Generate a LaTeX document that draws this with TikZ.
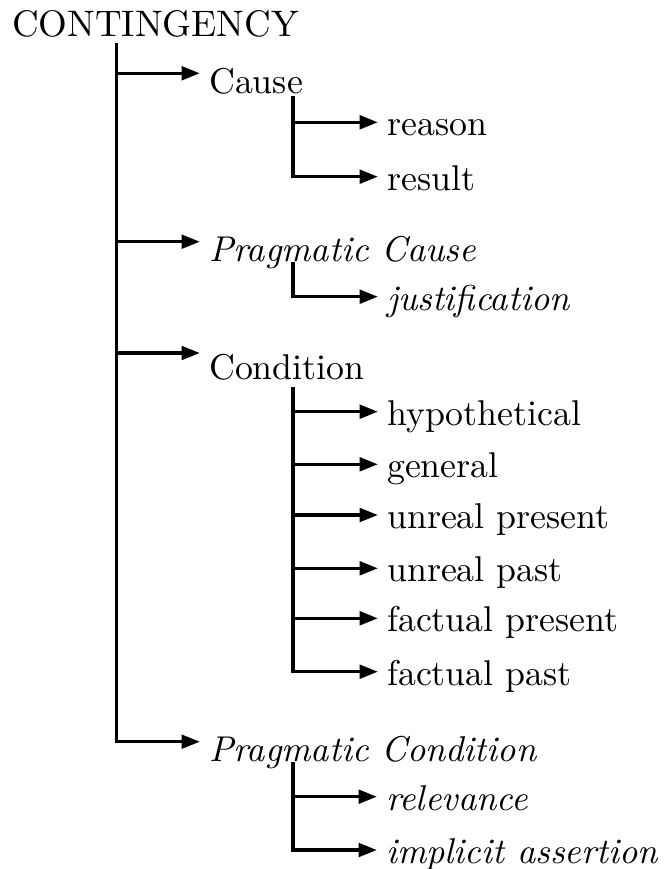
\documentclass[tikz,border=0pt]{standalone}
\usetikzlibrary{positioning}
\usetikzlibrary{arrows.meta}
\tikzset{root node/.style={inner sep=0pt, anchor=base west, font=\fontsize{10.5}{12}\selectfont},
  class node/.style={inner xsep=2.4pt, inner ysep=0pt, text height=11.8pt, text depth=0.4pt, font=\fontsize{10.2}{12}\selectfont},
  type node/.style={class node, text height=8.1pt},
  branch/.style={line width=1pt, -{Triangle[length=5.2pt,width=3.8pt]}},}

\begin{document}
\begin{tikzpicture}
      \useasboundingbox (0,0) rectangle (6.64,-8.69);
      \node[root node] (root) at (0.115,-0.367) {CONTINGENCY};
      \coordinate[below right = 0.63mm and 10.5mm of root.base west] (trunk);

      % first level
      \node[class node] (cause) [below right = 3.03mm and 8.35mm of trunk, anchor=west] {Cause};
      \node[class node] (pcause) [below = 16.84mm of cause.west, anchor=west] {\itshape Pragmatic Cause};
      \node[class node, text height=15.4pt] (cond) [below = 11.13mm of pcause.west, anchor=west] {Condition};
      \node[class node] (pcond) [below = 38.87mm of cond.west, anchor=west] {\itshape Pragmatic Condition};

      \coordinate[below right = 2.27mm and 9.3mm of cause.west] (cause fork);
      \coordinate[below right = 2.03mm and 9.3mm of pcause.west] (pcause fork);
      \coordinate[below right = 3.4mm and 9.3mm of cond.west] (cond fork);
      \coordinate[below right = 2.03mm and 9.3mm of pcond.west] (pcond fork);

      % second level
      \node[type node] (reason) [below right = 2.63mm and 8.5mm of cause fork, anchor=west] {reason};
      \node[type node] (result) [below = 5.44mm of reason.west, anchor=west] {result};
      \node[type node] (just) [below right = 3.47mm and 8.5mm of pcause fork, anchor=west] {\itshape justification};
      \node[type node] (hypo) [below right = 2.47mm and 8.5mm of cond fork, anchor=west] {hypothetical};
      \node[type node] (gen) [below = 5.26mm of hypo.west, anchor=west] {general};
      \node[type node] (upres) [below = 5.07mm of gen.west, anchor=west] {unreal present};
      \node[type node] (upast) [below = 5.33mm of upres.west, anchor=west] {unreal past};
      \node[type node] (fpres) [below = 5.0mm of upast.west, anchor=west] {factual present};
      \node[type node] (fpast) [below = 5.34mm of fpres.west, anchor=west] {factual past};
      \node[type node] (rel) [below right = 3.47mm and 8.4mm of pcond fork, anchor=west] {\itshape relevance};
      \node[type node] (impl) [below = 5.33mm of rel.west, anchor=west] {\itshape implicit assertion};

      \path[branch]
      (trunk) edge[to path={|- (\tikztotarget)}] (cause)
      (trunk) edge[to path={|- (\tikztotarget)}] (pcause)
      (trunk) edge[to path={|- (\tikztotarget)}] (cond)
      (trunk) edge[to path={|- (\tikztotarget)}] (pcond)
      (cause fork) edge[to path={|- (\tikztotarget)}] (reason)
      (cause fork) edge[to path={|- (\tikztotarget)}] (result)
      (pcause fork) edge[to path={|- (\tikztotarget)}] (just)
      (cond fork) edge[to path={|- (\tikztotarget)}] (hypo)
      (cond fork) edge[to path={|- (\tikztotarget)}] (gen)
      (cond fork) edge[to path={|- (\tikztotarget)}] (upres)
      (cond fork) edge[to path={|- (\tikztotarget)}] (upast)
      (cond fork) edge[to path={|- (\tikztotarget)}] (fpres)
      (cond fork) edge[to path={|- (\tikztotarget)}] (fpast)
      (pcond fork) edge[to path={|- (\tikztotarget)}] (rel)
      (pcond fork) edge[to path={|- (\tikztotarget)}] (impl);
    \end{tikzpicture}
\end{document}
